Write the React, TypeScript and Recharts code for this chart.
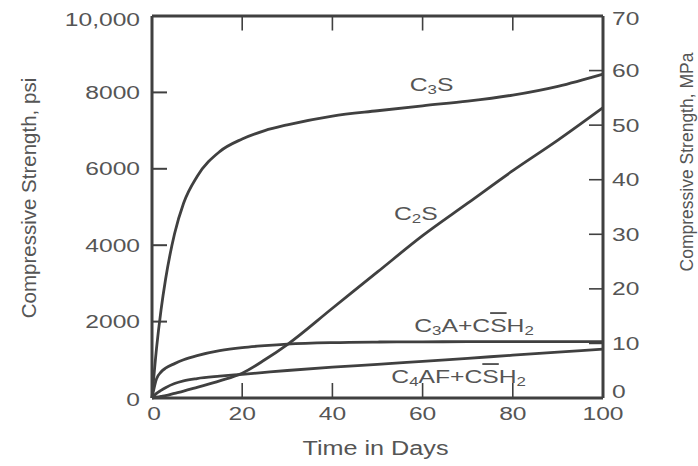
import { LineChart, Line, XAxis, YAxis, ReferenceLine, ReferenceDot, Label } from "recharts";

// strength development of the pure cement compounds (psi)
const DAYS = [0, 1, 2, 3, 5, 7, 10, 15, 20, 25, 30, 40, 50, 60, 70, 80, 90, 100];
const C3S = [0, 1300, 2300, 3100, 4300, 5100, 5800, 6450, 6780, 7000, 7150, 7380, 7520, 7650, 7770, 7930, 8160, 8480];
const C2S = [0, 20, 40, 60, 120, 180, 280, 450, 650, 1000, 1400, 2350, 3300, 4250, 5100, 5950, 6750, 7600];
const C3A = [0, 500, 680, 780, 900, 1000, 1110, 1240, 1320, 1370, 1410, 1450, 1465, 1470, 1475, 1475, 1475, 1475];
const C4AF = [0, 120, 200, 270, 380, 450, 510, 570, 620, 670, 720, 810, 880, 960, 1040, 1120, 1200, 1280];

const DAY_TICKS = [0, 20, 40, 60, 80, 100];
const PSI_TICKS = [0, 2000, 4000, 6000, 8000, 10000];
const PSI_LABELS = ["0", "2000", "4000", "6000", "8000", "10,000"];
const MPA_TICKS = [0, 10, 20, 30, 40, 50, 60, 70];

const INK = "#404040";
const TEXT = "#555";
const FONT = "'Liberation Sans', Arial, Helvetica, sans-serif";

const data = DAYS.map((day, i) => ({
  day,
  c3s: C3S[i],
  c2s: C2S[i],
  c3a: C3A[i],
  c4af: C4AF[i],
}));

function PsiTick({ x, y, payload }: any) {
  const v = payload.value;
  const label = PSI_LABELS[PSI_TICKS.indexOf(v)];
  const inner = v !== 0 && v !== 10000;
  const dy = v === 0 ? 2 : v === 10000 ? 4 : 0;
  return (
    <g>
      {inner && <line x1={x} x2={x + 15} y1={y} y2={y} stroke={INK} strokeWidth={2} />}
      <text
        transform={`translate(${x - 12},${y + dy}) scale(1.33,1)`}
        textAnchor="end"
        dominantBaseline="central"
        fontSize={18.5}
        fontFamily={FONT}
        fill={TEXT}
      >
        {label}
      </text>
    </g>
  );
}

function MpaTick({ x, y, payload }: any) {
  const v = payload.value;
  const inner = v !== 0 && v !== 70;
  const dy = v === 0 ? -6 : v === 70 ? 3 : 0;
  return (
    <g>
      {inner && <line x1={x} x2={x - 14} y1={y} y2={y} stroke={INK} strokeWidth={1.6} />}
      <text
        transform={`translate(${x + 9},${y + dy}) scale(1.33,1)`}
        textAnchor="start"
        dominantBaseline="central"
        fontSize={18.5}
        fontFamily={FONT}
        fill={TEXT}
      >
        {v}
      </text>
    </g>
  );
}

function DayTick({ x, y, payload }: any) {
  const v = payload.value;
  const inner = v !== 0 && v !== 100;
  return (
    <g>
      {inner && <line x1={x} x2={x} y1={y} y2={y - 15} stroke={INK} strokeWidth={1.6} />}
      <text
        transform={`translate(${x + (v === 0 ? 2 : 0)},${y + 16}) scale(1.33,1)`}
        textAnchor="middle"
        dominantBaseline="central"
        fontSize={18.5}
        fontFamily={FONT}
        fill={TEXT}
      >
        {v}
      </text>
    </g>
  );
}

// chemical formula label: parts are [text, kind] where kind is "sub", "bar" or plain
function Formula({ cx, cy, parts }: any) {
  let shift = 0;
  return (
    <text
      transform={`translate(${cx},${cy}) scale(1.3,1)`}
      textAnchor="middle"
      dominantBaseline="central"
      fontSize={19}
      fontFamily={FONT}
      fill={TEXT}
    >
      {parts.map(([t, kind]: [string, string?], i: number) => {
        const want = kind === "sub" ? 5 : 0;
        const dy = want - shift;
        shift = want;
        return (
          <tspan
            key={i}
            dy={dy}
            fontSize={kind === "sub" ? 13 : undefined}
            style={kind === "bar" ? { textDecoration: "overline" } : undefined}
          >
            {t}
          </tspan>
        );
      })}
    </text>
  );
}

const LABELS = [
  { day: 62, psi: 8220, parts: [["C"], ["3", "sub"], ["S"]] },
  { day: 58.5, psi: 4840, parts: [["C"], ["2", "sub"], ["S"]] },
  { day: 71.4, psi: 1910, parts: [["C"], ["3", "sub"], ["A+C"], ["S", "bar"], ["H"], ["2", "sub"]] },
  { day: 68, psi: 575, parts: [["C"], ["4", "sub"], ["AF+C"], ["S", "bar"], ["H"], ["2", "sub"]] },
];

export default function App() {
  return (
    <div style={{ position: "absolute", left: 0, top: 0, background: "#fff" }}>
      <LineChart
        width={698}
        height={466}
        data={data}
        margin={{ top: 16, right: 35, bottom: 38, left: 92 }}
      >
        <XAxis
          dataKey="day"
          type="number"
          domain={[0, 100]}
          ticks={DAY_TICKS}
          tick={<DayTick />}
          tickSize={0}
          tickMargin={0}
          tickLine={false}
          height={30}
          axisLine={{ stroke: INK, strokeWidth: 3 }}
        >
          <Label
            content={({ viewBox }: any) => (
              <text
                transform={`translate(${viewBox.x + viewBox.width / 2 - 2},${viewBox.y + 50}) scale(1.2,1)`}
                textAnchor="middle"
                dominantBaseline="central"
                fontSize={21}
                fontFamily={FONT}
                fill={TEXT}
              >
                Time in Days
              </text>
            )}
          />
        </XAxis>
        <YAxis
          yAxisId="psi"
          domain={[0, 10000]}
          ticks={PSI_TICKS}
          tick={<PsiTick />}
          tickSize={0}
          tickMargin={0}
          tickLine={false}
          width={60}
          axisLine={{ stroke: INK, strokeWidth: 3 }}
        >
          <Label
            content={({ viewBox }: any) => (
              <text
                transform={`translate(${viewBox.x - 64},${viewBox.y + viewBox.height / 2 - 9}) rotate(-90)`}
                textAnchor="middle"
                dominantBaseline="central"
                fontSize={20.5}
                fontFamily={FONT}
                fill={TEXT}
              >
                Compressive Strength, psi
              </text>
            )}
          />
        </YAxis>
        <YAxis
          yAxisId="mpa"
          orientation="right"
          type="number"
          domain={[0, 70]}
          allowDataOverflow
          ticks={MPA_TICKS}
          tick={<MpaTick />}
          tickSize={0}
          tickMargin={0}
          tickLine={false}
          width={60}
          axisLine={{ stroke: INK, strokeWidth: 3 }}
        >
          <Label
            content={({ viewBox }: any) => (
              <text
                transform={`translate(${viewBox.x + 84},${viewBox.y + viewBox.height / 2 - 45}) rotate(-90)`}
                textAnchor="middle"
                dominantBaseline="central"
                fontSize={17.5}
                fontFamily={FONT}
                fill={TEXT}
              >
                Compressive Strength, MPa
              </text>
            )}
          />
        </YAxis>

        <ReferenceLine yAxisId="psi" y={10000} stroke={INK} strokeWidth={3} />
        {DAY_TICKS.filter((d) => d > 0 && d < 100).map((d) => (
          <ReferenceLine
            key={d}
            yAxisId="psi"
            segment={[{ x: d, y: 10000 }, { x: d, y: 9620 }]}
            stroke={INK}
            strokeWidth={1.6}
          />
        ))}

        <Line yAxisId="psi" dataKey="c3s" type="monotone" stroke={INK} strokeWidth={2.8} dot={false} isAnimationActive={false} />
        <Line yAxisId="psi" dataKey="c2s" type="monotone" stroke={INK} strokeWidth={2.8} dot={false} isAnimationActive={false} />
        <Line yAxisId="psi" dataKey="c3a" type="monotone" stroke={INK} strokeWidth={2.8} dot={false} isAnimationActive={false} />
        <Line yAxisId="psi" dataKey="c4af" type="monotone" stroke={INK} strokeWidth={2.8} dot={false} isAnimationActive={false} />

        {LABELS.map((l, i) => (
          <ReferenceDot
            key={i}
            yAxisId="psi"
            x={l.day}
            y={l.psi}
            shape={(p: any) => <Formula cx={p.cx} cy={p.cy} parts={l.parts} />}
          />
        ))}
      </LineChart>
    </div>
  );
}
